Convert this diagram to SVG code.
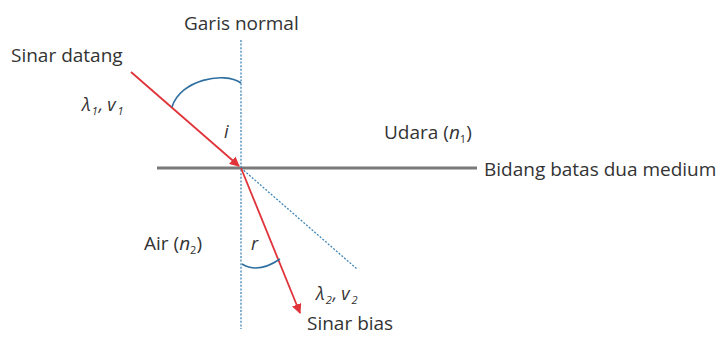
<svg xmlns="http://www.w3.org/2000/svg" width="728" height="344" viewBox="0 0 728 344">
<defs>
<style>
text{font-family:"Open Sans","Liberation Sans",sans-serif;font-size:19px;fill:#333}
.it{font-style:italic}
.sm{font-size:18px}
.sub{font-size:11px}
.ray{stroke:#e0343a;stroke-width:1.8;fill:none}
.dot{stroke:#3f86b8;stroke-width:1.3;stroke-dasharray:2 1.6;fill:none}
.arc{stroke:#2f6f9f;stroke-width:1.6;fill:none}
</style>
<marker id="ah" viewBox="0 0 10 10" refX="9" refY="5" markerWidth="5.5" markerHeight="5.5" orient="auto" markerUnits="strokeWidth">
<path d="M0,0 L10,5 L0,10 z" fill="#e0343a"/>
</marker>
</defs>
<rect width="728" height="344" fill="#fff"/>
<g id="connectors">
<line id="boundary" x1="157" y1="168" x2="477" y2="168" stroke="#7a7a7a" stroke-width="3"/>
<line id="normal" class="dot" x1="241" y1="40" x2="241" y2="329"/>
<line id="extension" class="dot" x1="241" y1="168" x2="357" y2="269"/>
<line id="incident" class="ray" x1="131" y1="72" x2="239" y2="166" marker-end="url(#ah)"/>
<line id="refracted" class="ray" x1="241" y1="168" x2="300" y2="313" marker-end="url(#ah)"/>
<path id="arc-i" class="arc" d="M172,107 C180,80 224,71 241,83"/>
<path id="arc-r" class="arc" d="M242,264 Q258,274 280,259"/>
</g>
<g id="labels">
<text x="184" y="30">Garis normal</text>
<text x="11" y="62">Sinar datang</text>
<text x="82" y="111" class="it sm">λ<tspan class="sub" dx="1" dy="4">1</tspan><tspan dx="1" dy="-4">,</tspan><tspan dx="4">v</tspan><tspan class="sub" dx="2" dy="4">1</tspan></text>
<text x="224" y="138" class="it sm">i</text>
<text x="384" y="139">Udara (<tspan class="it">n</tspan><tspan class="sub" dy="4">1</tspan><tspan dy="-4">)</tspan></text>
<text x="484" y="176">Bidang batas dua medium</text>
<text x="144" y="250">Air (<tspan class="it">n</tspan><tspan class="sub" dy="4">2</tspan><tspan dy="-4">)</tspan></text>
<text x="251" y="250" class="it sm">r</text>
<text x="316" y="300" class="it sm">λ<tspan class="sub" dx="1" dy="4">2</tspan><tspan dx="1" dy="-4">,</tspan><tspan dx="4">v</tspan><tspan class="sub" dx="2" dy="4">2</tspan></text>
<text x="307" y="330">Sinar bias</text>
</g>
</svg>
